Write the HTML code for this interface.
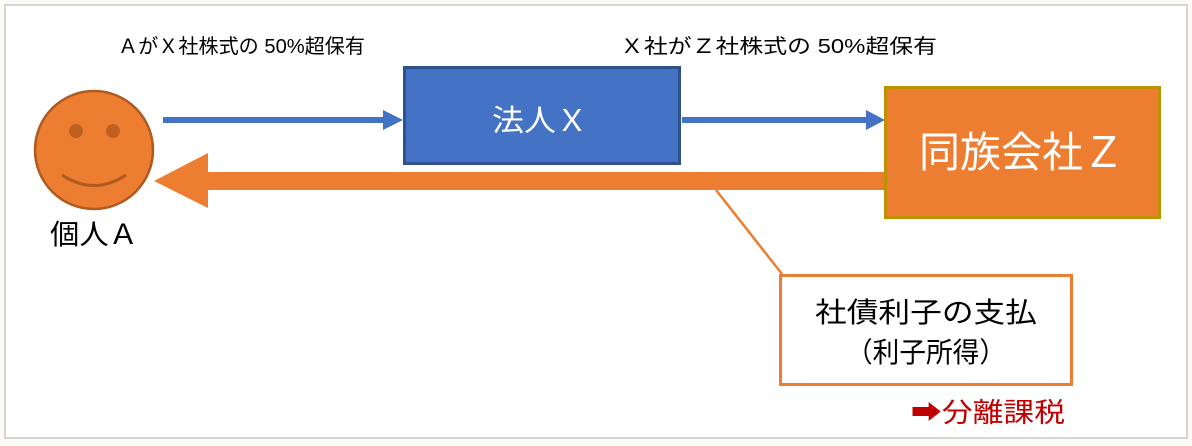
<!DOCTYPE html>
<html><head><meta charset="utf-8"><style>
html,body{margin:0;padding:0;background:#fbfaf5;}
svg{display:block;}
text{font-family:"Liberation Sans","Noto Sans CJK JP",sans-serif;}
</style></head><body>
<svg width="1192" height="446" viewBox="0 0 1192 446" xmlns="http://www.w3.org/2000/svg">
<rect x="5" y="5" width="1182" height="433" fill="#ffffff" stroke="#c8c8c8" stroke-width="1.5"/>
<!-- face -->
<circle cx="94" cy="150" r="59" fill="#ed7d31" stroke="#ae5a21" stroke-width="2.5"/>
<circle cx="76" cy="131" r="7" fill="#c0601f"/>
<circle cx="113" cy="131" r="7" fill="#c0601f"/>
<path d="M62 175 Q94 196 126 175" fill="none" stroke="#ae5a21" stroke-width="3"/>
<text x="50" y="244" font-size="28" textLength="88" lengthAdjust="spacingAndGlyphs" fill="#000">個人Ａ</text>
<!-- labels -->
<text x="118" y="53" font-size="20" textLength="247" lengthAdjust="spacingAndGlyphs" fill="#000">ＡがＸ社株式の 50%超保有</text>
<text x="620" y="53" font-size="20" textLength="317" lengthAdjust="spacingAndGlyphs" fill="#000">Ｘ社がＺ社株式の 50%超保有</text>
<!-- blue arrows -->
<rect x="163" y="117" width="222" height="6" fill="#4472c4"/>
<polygon points="383,110 403,120 383,130" fill="#4472c4"/>
<rect x="682" y="117" width="186" height="6" fill="#4472c4"/>
<polygon points="866,110 885,120 866,130" fill="#4472c4"/>
<!-- box X -->
<rect x="404.5" y="67.5" width="275" height="96" fill="#4472c4" stroke="#2f528f" stroke-width="3"/>
<text x="492" y="131" font-size="30" textLength="96" lengthAdjust="spacingAndGlyphs" fill="#fff">法人Ｘ</text>
<!-- orange arrow -->
<rect x="205" y="172" width="682" height="18" fill="#ed7d31"/>
<polygon points="154,181 208,153 208,208" fill="#ed7d31"/>
<!-- box Z -->
<rect x="885.5" y="87.5" width="274" height="130" fill="#ed7d31" stroke="#bf9000" stroke-width="3"/>
<text x="919" y="167" font-size="42" textLength="205" lengthAdjust="spacingAndGlyphs" fill="#fff">同族会社Ｚ</text>
<!-- callout -->
<line x1="716" y1="190" x2="782" y2="274" stroke="#ed7d31" stroke-width="2.5"/>
<rect x="780.5" y="275.5" width="291" height="109" fill="#fff" stroke="#ed7d31" stroke-width="3"/>
<text x="815" y="322" font-size="28" textLength="222" lengthAdjust="spacingAndGlyphs" fill="#000">社債利子の支払</text>
<text x="846" y="362" font-size="28" textLength="160" lengthAdjust="spacingAndGlyphs" fill="#000">（利子所得）</text>
<text x="911" y="422" font-size="27" textLength="154" lengthAdjust="spacingAndGlyphs" fill="#c00000">➡分離課税</text>
</svg>
</body></html>
